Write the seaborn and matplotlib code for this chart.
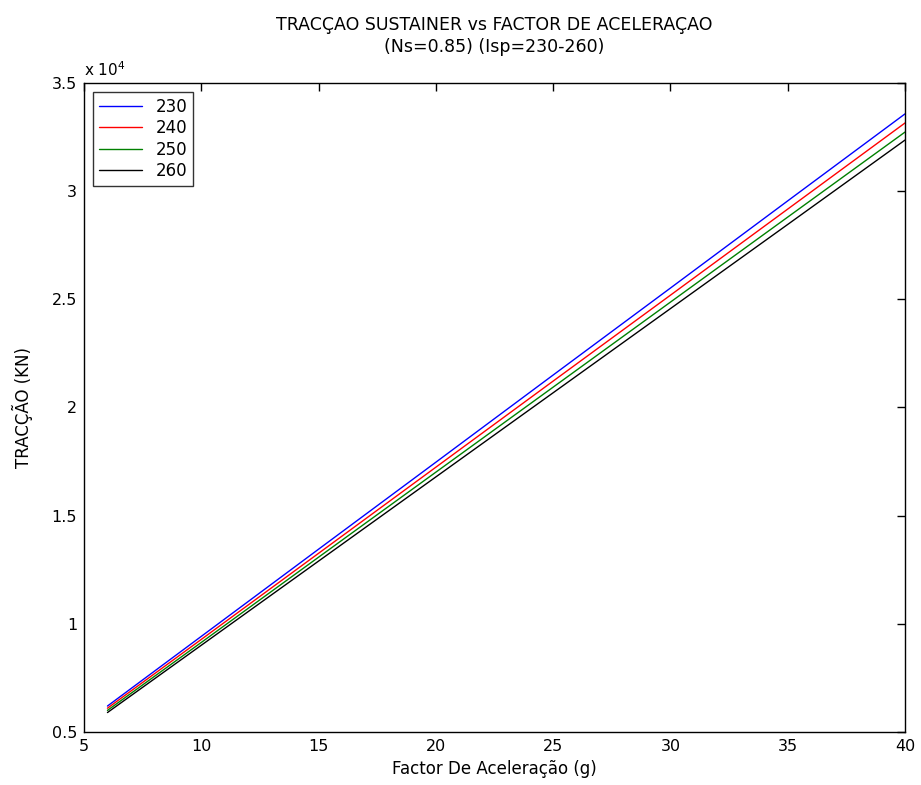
import matplotlib
matplotlib.use("Agg")
import matplotlib.pyplot as plt
import seaborn as sns
import pandas as pd
from matplotlib.ticker import FuncFormatter, MultipleLocator

x_vals = [6, 10, 15, 20, 25, 30, 35, 40]
isp_230 = [6200, 9420, 13450, 17470, 21500, 25520, 29550, 33570]
isp_240 = [6100, 9280, 13260, 17240, 21220, 25190, 29170, 33150]
isp_250 = [6000, 9140, 13080, 17010, 20940, 24870, 28800, 32730]
isp_260 = [5900, 9010, 12900, 16790, 20680, 24570, 28460, 32360]
labels = ["230", "240", "250", "260"]
colors = ["#0000ff", "#ff0000", "#008000", "#000000"]

rows = []
for lab, ys in zip(labels, [isp_230, isp_240, isp_250, isp_260]):
    for xv, yv in zip(x_vals, ys):
        rows.append({"x": xv, "y": yv, "Isp": lab})
df = pd.DataFrame(rows)

sns.set_style("white")
plt.rcParams['font.family'] = ['DejaVu Sans']
plt.rcParams['text.color'] = 'black'
plt.rcParams['axes.labelcolor'] = 'black'
plt.rcParams['xtick.color'] = 'black'
plt.rcParams['ytick.color'] = 'black'

fig = plt.figure(figsize=(9.21, 7.85), dpi=100)
ax = fig.add_axes([0.0912, 0.0675, 0.8914, 0.8268])
sns.lineplot(data=df, x="x", y="y", hue="Isp", palette=colors, ax=ax, linewidth=1.0)

ax.set_xlim(5, 40)
ax.set_ylim(5000, 35000)
ax.xaxis.set_major_locator(MultipleLocator(5))
ax.yaxis.set_major_locator(MultipleLocator(5000))
ax.yaxis.set_major_formatter(FuncFormatter(lambda v, p: f"{v/1e4:g}"))
ax.tick_params(direction="in", top=True, right=True, length=6, width=1, labelsize=11.5, pad=5)
for s in ax.spines.values():
    s.set_linewidth(1.0)
    s.set_color("black")

ax.set_xlabel("Factor De Aceleração (g)", fontsize=12, labelpad=4)
ax.set_ylabel("TRACÇÃO (KN)", fontsize=12, labelpad=13)
ax.set_title("TRACÇAO SUSTAINER vs FACTOR DE ACELERAÇAO\n(Ns=0.85) (Isp=230-260)", fontsize=12.5,
             pad=22, linespacing=1.3)
ax.text(0.0, 1.006, r"x 10$^4$", transform=ax.transAxes, fontsize=11, va="bottom", ha="left")

leg = ax.legend(loc="upper left", fontsize=12, frameon=True, fancybox=False,
                edgecolor="black", handlelength=2.6, borderaxespad=0.55, labelspacing=0.2,
                borderpad=0.35, handletextpad=0.8)
leg.get_frame().set_linewidth(1.0)
leg.set_title(None)

fig.savefig("out.png", dpi=100)
